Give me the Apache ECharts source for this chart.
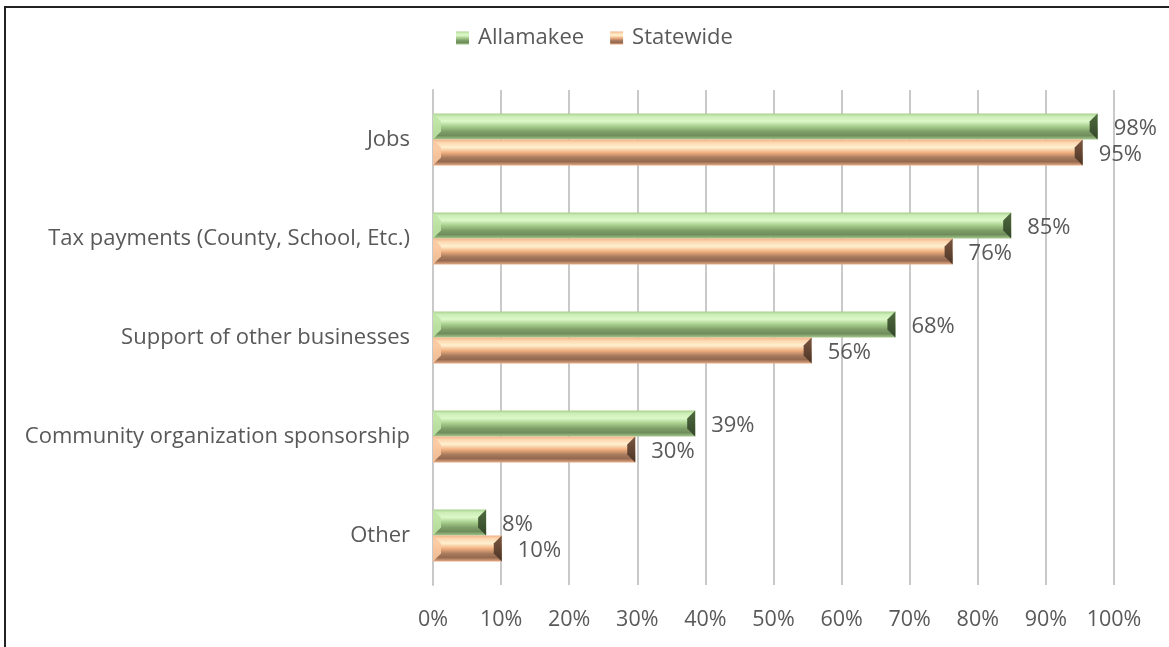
<!DOCTYPE html>
<html>
<head>
<meta charset="utf-8">
<script src="https://cdn.jsdelivr.net/npm/echarts@6/dist/echarts.min.js"></script>
<style>
html,body{margin:0;padding:0;background:#fff;overflow:hidden;}
#frame{position:absolute;left:4px;top:6px;width:1200px;height:700px;border-left:2px solid #222;border-top:2px solid #222;box-shadow:-1px -1px 0 #999 inset;}
#chart{position:absolute;left:0;top:0;width:1169px;height:647px;}
</style>
</head>
<body>
<div id="frame"></div>
<div id="chart"></div>
<script>
const categories = ['Jobs', 'Tax payments (County, School, Etc.)', 'Support of other businesses', 'Community organization sponsorship', 'Other'];
const allamakee = [97.6, 84.9, 67.9, 38.5, 7.8];
const statewide = [95.4, 76.3, 55.6, 29.7, 10.1];
const xTicks = [0, 10, 20, 30, 40, 50, 60, 70, 80, 90, 100];

const FONT = '"Open Sans", sans-serif';
const BAR_W = 26;
const BEVEL = 8;

function grad(stops) {
  return new echarts.graphic.LinearGradient(0, 0, 0, 1, stops.map(s => ({offset: s[0], color: s[1]})));
}
const greenGrad = grad([[0,'#a9d18e'],[0.12,'#cdeeb8'],[0.3,'#dcf8c8'],[0.5,'#a6cd8c'],[0.7,'#7d9d67'],[0.85,'#6f8d5b'],[1,'#a3c98b']]);
const orangeGrad = grad([[0,'#f2b184'],[0.12,'#fcd7b0'],[0.3,'#fff0cf'],[0.5,'#f1b080'],[0.7,'#a77a5d'],[0.85,'#94694f'],[1,'#e7ab83']]);

const chart = echarts.init(document.getElementById('chart'), null, {renderer: 'canvas'});
const labelStyle = {
  show: true, position: 'right', distance: 16, offset: [0, 2],
  color: '#595959', fontSize: 22, fontFamily: FONT,
  formatter: p => Math.round(p.value) + '%'
};

function capSeries(values, idx, leftColor, rightColor) {
  return {
    type: 'custom', silent: true, z: 3,
    data: values.map((v, i) => [i, v]),
    encode: {x: 1, y: 0},
    renderItem: function (params, api) {
      const ci = api.value(0), v = api.value(1);
      const p0 = api.coord([0, ci]);
      const p1 = api.coord([v, ci]);
      const y0 = idx === 0 ? p0[1] - BAR_W : p0[1];
      const y1 = y0 + BAR_W;
      const x0 = p0[0], x1 = p1[0];
      const b = Math.min(BEVEL, (x1 - x0) / 2);
      return {
        type: 'group',
        children: [
          {type: 'polygon', shape: {points: [[x0, y0], [x0 + b, y0 + b], [x0 + b, y1 - b], [x0, y1]]}, style: {fill: leftColor}},
          {type: 'polygon', shape: {points: [[x1, y0], [x1, y1], [x1 - b, y1 - b], [x1 - b, y0 + b]]}, style: {fill: rightColor}}
        ]
      };
    }
  };
}

chart.setOption({
  backgroundColor: 'transparent',
  animation: false,
  legend: {
    top: 27, left: 456, padding: 0,
    itemWidth: 13, itemHeight: 13, itemGap: 26,
    icon: 'rect',
    textStyle: {fontSize: 22, color: '#595959', fontFamily: FONT, padding: [0, 0, 0, 4]},
    data: ['Allamakee', 'Statewide']
  },
  grid: {left: 433, right: 55, top: 90, bottom: 62, containLabel: false},
  xAxis: {
    type: 'value', min: 0, max: 100, interval: 10,
    axisLine: {show: false}, axisTick: {show: false},
    splitLine: {show: true, lineStyle: {color: '#c9c9c9', width: 2}},
    axisLabel: {
      fontSize: 21.5, color: '#595959', fontFamily: FONT, margin: 24,
      formatter: v => xTicks.includes(v) ? v + '%' : ''
    }
  },
  yAxis: {
    type: 'category', data: categories, inverse: true,
    axisLine: {show: true, lineStyle: {color: '#c9c9c9', width: 2}},
    axisTick: {show: false},
    axisLabel: {fontSize: 22, color: '#595959', fontFamily: FONT, margin: 23, padding: [10, 0, 0, 0]}
  },
  series: [
    {name: 'Allamakee', type: 'bar', data: allamakee, barWidth: BAR_W, barGap: '0%',
     itemStyle: {color: greenGrad}, label: labelStyle},
    {name: 'Statewide', type: 'bar', data: statewide, barWidth: BAR_W, barGap: '0%',
     itemStyle: {color: orangeGrad}, label: labelStyle},
    capSeries(allamakee, 0, 'rgba(190,228,165,0.9)', new echarts.graphic.LinearGradient(0,0,0,1,[{offset:0,color:'#4e6a3e'},{offset:1,color:'#34472a'}])),
    capSeries(statewide, 1, 'rgba(250,200,160,0.9)', new echarts.graphic.LinearGradient(0,0,0,1,[{offset:0,color:'#7a5640'},{offset:1,color:'#4d3526'}]))
  ]
});
</script>
</body>
</html>
